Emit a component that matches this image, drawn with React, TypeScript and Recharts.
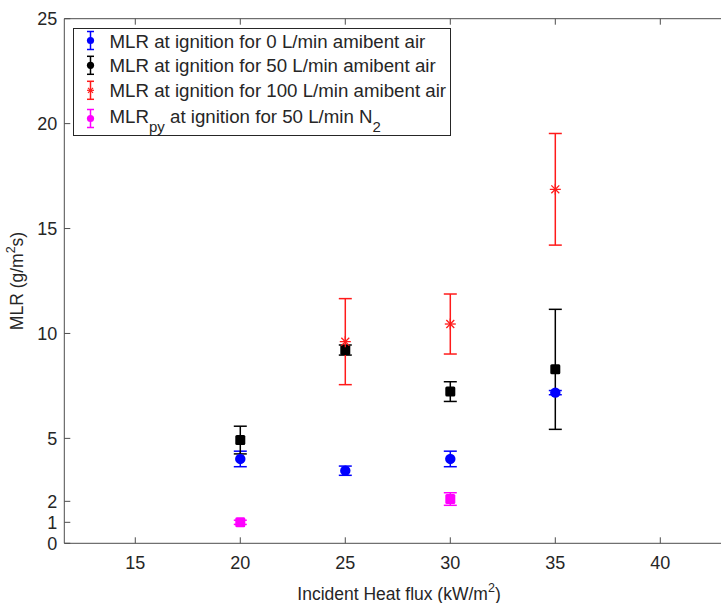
import React from "react";
import {
  ScatterChart,
  Scatter,
  XAxis,
  YAxis,
  ErrorBar,
  Legend,
  Label,
  ReferenceLine,
} from "recharts";

// incident heat flux (kW/m2) and MLR (g/m2s)
const heatFlux = [20, 25, 30, 35];
const mlr0 = [4.02, 3.46, 4.02, 7.18];
const err0 = [0.37, 0.22, 0.37, 0.1];
const mlr50 = [4.92, 9.21, 7.23, 8.29];
const err50 = [0.66, 0.24, 0.47, 2.86];
const heatFlux100 = [25, 30, 35];
const mlr100 = [9.61, 10.45, 16.87];
const err100 = [2.05, 1.43, 2.66];
const heatFluxN2 = [20, 30];
const mlrN2 = [1.0, 2.11];
const errN2 = [0.1, 0.3];

const xTicks = [15, 20, 25, 30, 35, 40];
const yTicks = [0, 1, 2, 5, 10, 15, 20, 25];
// the original axes run past the right edge of the picture
const xDomain = [11.62, 42.89];
const yDomain = [0, 25];

const FONT = "'Liberation Sans', Arial, Helvetica, sans-serif";
const TEXT = "#262626";
const AXIS = "#4d4d4d";
const BLUE = "#0000ff";
const BLACK = "#000000";
const RED = "#ff1a1a";
const MAGENTA = "#ff00ff";

function toPoints(xs: number[], ys: number[], es: number[]) {
  return xs.map((x, i) => ({ x, y: ys[i], err: es[i] }));
}

const data0 = toPoints(heatFlux, mlr0, err0);
const data50 = toPoints(heatFlux, mlr50, err50);
const data100 = toPoints(heatFlux100, mlr100, err100);
const dataN2 = toPoints(heatFluxN2, mlrN2, errN2);

/** markers */
const circleShape = (color: string) => (p: any) =>
  <circle cx={p.cx} cy={p.cy} r={5.2} fill={color} />;
const squareShape = (color: string) => (p: any) =>
  <rect x={p.cx - 5} y={p.cy - 5} width={10} height={10} rx={1.5} fill={color} />;
const starShape = (color: string) => (p: any) => {
  const r = 5.5;
  const d = r * 0.72;
  return (
    <g stroke={color} strokeWidth={1.3}>
      <line x1={p.cx - r} y1={p.cy} x2={p.cx + r} y2={p.cy} />
      <line x1={p.cx} y1={p.cy - r} x2={p.cx} y2={p.cy + r} />
      <line x1={p.cx - d} y1={p.cy - d} x2={p.cx + d} y2={p.cy + d} />
      <line x1={p.cx - d} y1={p.cy + d} x2={p.cx + d} y2={p.cy - d} />
    </g>
  );
};

/** inward ticks, MATLAB style */
function BottomTick(props: any) {
  const { x, y, payload } = props;
  return (
    <g>
      <line x1={x} y1={y} x2={x} y2={y - 6} stroke={AXIS} />
      <text x={x} y={y + 26} textAnchor="middle" fontSize={18} fontFamily={FONT} fill={TEXT}>
        {payload.value}
      </text>
    </g>
  );
}

function TopTick(props: any) {
  const { x, y } = props;
  return <line x1={x} y1={y} x2={x} y2={y + 6} stroke={AXIS} />;
}

function LeftTick(props: any) {
  const { x, y, payload } = props;
  return (
    <g>
      <line x1={x} y1={y} x2={x + 6} y2={y} stroke={AXIS} />
      <text x={x - 7} y={y + 6.5} textAnchor="end" fontSize={18} fontFamily={FONT} fill={TEXT}>
        {payload.value}
      </text>
    </g>
  );
}

function XTitle() {
  return (
    <text x={399} y={600} textAnchor="middle" fontSize={17.5} fontFamily={FONT} fill={TEXT}>
      Incident Heat flux (kW/m
      <tspan dy={-8} fontSize={12.5}>2</tspan>
      <tspan dy={8}>)</tspan>
    </text>
  );
}

function YTitle() {
  return (
    <text
      transform="translate(23, 281) rotate(-90)"
      textAnchor="middle"
      fontSize={17.5}
      fontFamily={FONT}
      fill={TEXT}
    >
      MLR (g/m
      <tspan dy={-8} fontSize={12.5}>2</tspan>
      <tspan dy={8}>s)</tspan>
    </text>
  );
}

const legendRows = [
  { color: BLUE, kind: "circle", label: "MLR at ignition for 0 L/min amibent air" },
  { color: BLACK, kind: "circle", label: "MLR at ignition for 50 L/min amibent air" },
  { color: RED, kind: "star", label: "MLR at ignition for 100 L/min amibent air" },
  { color: MAGENTA, kind: "circle", label: "py" },
];

function LegendBox() {
  const rowY = [12.5, 37.3, 62.3, 90.5];
  return (
    <svg width={378} height={108} style={{ display: "block" }}>
      <rect x={0.5} y={0.5} width={377} height={107} fill="#fff" stroke={TEXT} strokeWidth={1} />
      {legendRows.map((r, i) => {
        const cy = rowY[i];
        const mx = 17.5;
        return (
          <g key={i}>
            <g stroke={r.color} strokeWidth={1.5}>
              <line x1={mx} y1={cy - 9} x2={mx} y2={cy + 9} />
              <line x1={mx - 3.5} y1={cy - 9} x2={mx + 3.5} y2={cy - 9} />
              <line x1={mx - 3.5} y1={cy + 9} x2={mx + 3.5} y2={cy + 9} />
            </g>
            {r.kind === "star" ? (
              <g stroke={r.color} strokeWidth={1.2}>
                <line x1={mx - 3.5} y1={cy} x2={mx + 3.5} y2={cy} />
                <line x1={mx - 2.5} y1={cy - 2.5} x2={mx + 2.5} y2={cy + 2.5} />
                <line x1={mx - 2.5} y1={cy + 2.5} x2={mx + 2.5} y2={cy - 2.5} />
              </g>
            ) : (
              <circle cx={mx} cy={cy} r={3.6} fill={r.color} />
            )}
            {i < 3 ? (
              <text x={36.5} y={cy + 7} fontSize={18.7} fontFamily={FONT} fill={TEXT}>
                {r.label}
              </text>
            ) : (
              <text x={36.5} y={cy + 4} fontSize={18.7} fontFamily={FONT} fill={TEXT}>
                MLR
                <tspan dy={9} fontSize={15}>py</tspan>
                <tspan dy={-9}> at ignition for 50 L/min N</tspan>
                <tspan dy={9} fontSize={15}>2</tspan>
              </text>
            )}
          </g>
        );
      })}
    </svg>
  );
}

export default function App() {
  return (
    <div style={{ position: "absolute", left: 0, top: 0, width: 721, height: 603, background: "#fff" }}>
      <ScatterChart
        width={721}
        height={603}
        margin={{ top: 17.7, right: 0, bottom: 58.7, left: 0 }}
      >
        <XAxis
          xAxisId={0}
          type="number"
          dataKey="x"
          domain={xDomain}
          allowDataOverflow
          ticks={xTicks}
          interval={0}
          height={1}
          tickSize={0}
          tickMargin={0}
          tickLine={false}
          tick={<BottomTick />}
          axisLine={false}
        >
          <Label content={<XTitle />} />
        </XAxis>
        <XAxis
          xAxisId="top"
          orientation="top"
          type="number"
          dataKey="x"
          domain={xDomain}
          allowDataOverflow
          ticks={xTicks}
          interval={0}
          height={1}
          tickSize={0}
          tickMargin={0}
          tickLine={false}
          tick={<TopTick />}
          axisLine={false}
        />
        <YAxis
          type="number"
          dataKey="y"
          domain={yDomain}
          allowDataOverflow
          ticks={yTicks}
          interval={0}
          width={64.3}
          tickSize={0}
          tickMargin={0}
          tickLine={false}
          tick={<LeftTick />}
          axisLine={{ stroke: AXIS }}
        >
          <Label content={<YTitle />} />
        </YAxis>
        <ReferenceLine y={yDomain[0]} stroke={AXIS} strokeWidth={1} ifOverflow="visible" />
        <ReferenceLine y={yDomain[1]} stroke={AXIS} strokeWidth={1} ifOverflow="visible" />
        <Legend
          layout="horizontal"
          verticalAlign="middle"
          align="center"
          content={<LegendBox />}
          wrapperStyle={{ left: 73, top: 27.5, width: 378, height: 108 }}
        />
        <Scatter name="0 L/min" data={data0} shape={circleShape(BLUE)} isAnimationActive={false}>
          <ErrorBar dataKey="err" direction="y" width={6.5} stroke={BLUE} strokeWidth={1.5} />
        </Scatter>
        <Scatter name="50 L/min" data={data50} shape={squareShape(BLACK)} isAnimationActive={false}>
          <ErrorBar dataKey="err" direction="y" width={6.5} stroke={BLACK} strokeWidth={1.5} />
        </Scatter>
        <Scatter name="100 L/min" data={data100} shape={starShape(RED)} isAnimationActive={false}>
          <ErrorBar dataKey="err" direction="y" width={6.5} stroke={RED} strokeWidth={1.5} />
        </Scatter>
        <Scatter name="N2" data={dataN2} shape={squareShape(MAGENTA)} isAnimationActive={false}>
          <ErrorBar dataKey="err" direction="y" width={6.5} stroke={MAGENTA} strokeWidth={1.5} />
        </Scatter>
      </ScatterChart>
    </div>
  );
}
